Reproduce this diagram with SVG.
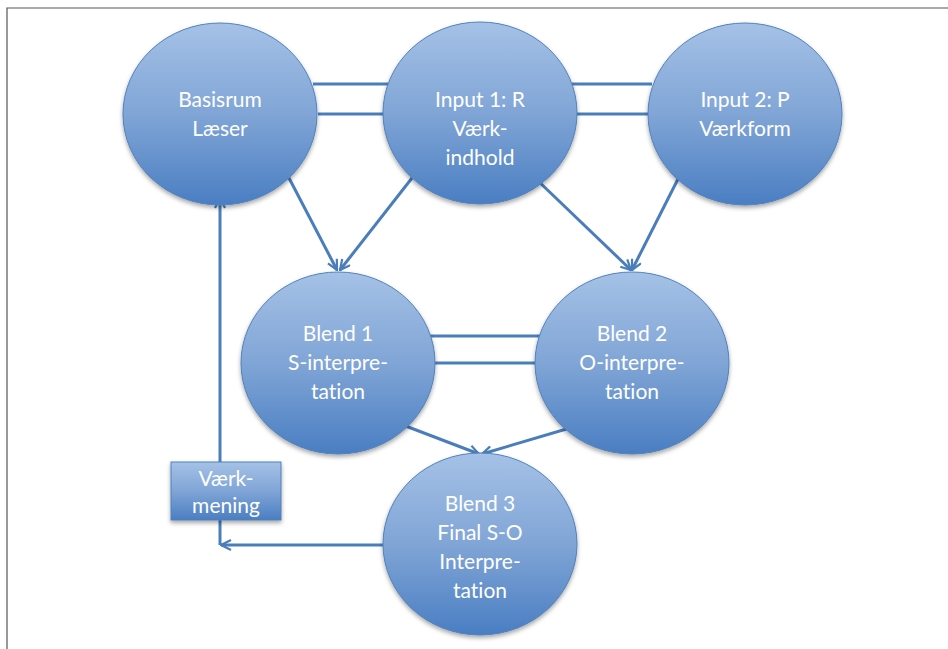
<svg xmlns="http://www.w3.org/2000/svg" width="948" height="649" viewBox="0 0 948 649">
<defs>
<linearGradient id="g" x1="0" y1="0" x2="0" y2="1">
<stop offset="0" stop-color="#a5c1e6"/>
<stop offset="0.5" stop-color="#80a5d6"/>
<stop offset="1" stop-color="#4a7ec2"/>
</linearGradient>
<filter id="sh" x="-20%" y="-20%" width="140%" height="140%">
<feDropShadow dx="0" dy="2.5" stdDeviation="2" flood-color="#000" flood-opacity="0.35"/>
</filter>
<marker id="ah" viewBox="0 0 12 12" refX="11" refY="6" markerWidth="12" markerHeight="12" markerUnits="userSpaceOnUse" orient="auto">
<path d="M1,1 L11,6 L1,11" fill="none" stroke="#4a7ebb" stroke-width="2.2"/>
</marker>
</defs>
<style>
.node{fill:url(#g);stroke:#4f81bd;stroke-width:1;filter:url(#sh)}
.t{font-family:Lato,"Liberation Sans",sans-serif;font-size:21px;fill:#fff;text-anchor:middle;font-variant-ligatures:none}
.c{fill:none;stroke:#4a7ebb;stroke-width:3}
.a{marker-end:url(#ah)}
</style>
<rect x="0" y="0" width="948" height="649" fill="#fff"/>
<path d="M7,649 V8 H948" fill="none" stroke="#555" stroke-width="1.2"/>
<g id="connectors">
<line class="c" x1="313" y1="84" x2="388" y2="84"/>
<line class="c" x1="318" y1="114" x2="386" y2="114"/>
<line class="c" x1="572" y1="84" x2="652" y2="84"/>
<line class="c" x1="576" y1="114" x2="650" y2="114"/>
<line class="c" x1="430" y1="336" x2="540" y2="336"/>
<line class="c" x1="434" y1="363" x2="538" y2="363"/>
<line class="c a" x1="289" y1="178" x2="337" y2="270"/>
<line class="c a" x1="412" y1="178" x2="340" y2="270"/>
<line class="c a" x1="535" y1="178" x2="631" y2="270"/>
<line class="c a" x1="678" y1="179" x2="632" y2="270"/>
<line class="c a" x1="403" y1="425" x2="479" y2="454"/>
<line class="c a" x1="580" y1="425" x2="482" y2="454"/>
<line class="c a" x1="383" y1="545" x2="221" y2="545"/>
<line class="c a" x1="220" y1="545" x2="220" y2="198"/>
</g>
<g id="basisrum">
<ellipse class="node" cx="220" cy="114" rx="97" ry="91"/>
<text class="t" x="220" y="107">Basisrum</text>
<text class="t" x="220" y="136">Læser</text>
</g>
<g id="input1">
<ellipse class="node" cx="480" cy="113" rx="97" ry="91"/>
<text class="t" x="480" y="107">Input 1: R</text>
<text class="t" x="480" y="136">Værk-</text>
<text class="t" x="480" y="165">indhold</text>
</g>
<g id="input2">
<ellipse class="node" cx="745" cy="114" rx="97" ry="91"/>
<text class="t" x="745" y="107">Input 2: P</text>
<text class="t" x="745" y="136">Værkform</text>
</g>
<g id="blend1">
<ellipse class="node" cx="338" cy="363" rx="97" ry="91"/>
<text class="t" x="338" y="341">Blend 1</text>
<text class="t" x="338" y="370">S-interpre-</text>
<text class="t" x="338" y="399">tation</text>
</g>
<g id="blend2">
<ellipse class="node" cx="632" cy="363" rx="97" ry="91"/>
<text class="t" x="632" y="341">Blend 2</text>
<text class="t" x="632" y="370">O-interpre-</text>
<text class="t" x="632" y="399">tation</text>
</g>
<g id="blend3">
<ellipse class="node" cx="480" cy="544" rx="97" ry="91"/>
<text class="t" x="480" y="511">Blend 3</text>
<text class="t" x="480" y="540">Final S-O</text>
<text class="t" x="480" y="569">Interpre-</text>
<text class="t" x="480" y="598">tation</text>
</g>
<g id="vaerkmening">
<rect class="node" x="171" y="462" width="110" height="58"/>
<text class="t" x="226" y="486">Værk-</text>
<text class="t" x="226" y="513">mening</text>
</g>
</svg>
